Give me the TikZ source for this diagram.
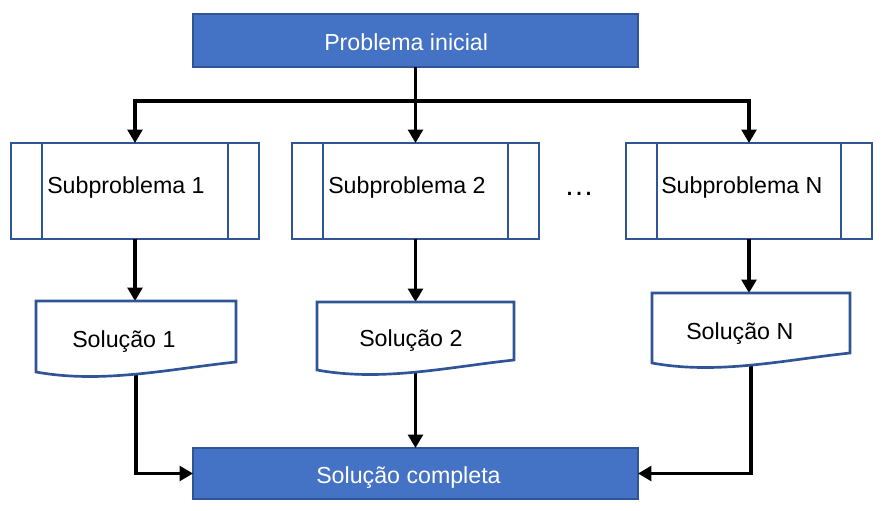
\documentclass[tikz,border=0pt]{standalone}
\usepackage{fontspec}
\setmainfont{Liberation Sans}
\usetikzlibrary{arrows.meta,calc}
\definecolor{boxfill}{HTML}{4472C4}
\definecolor{boxline}{HTML}{2F5597}
\newcommand\mydocshape[1]{%
  \draw[docline] (#1.north west) -- (#1.north east) -- (#1.south east)
    .. controls ($(#1.south east)!0.333!(#1.south west)+(0,7)$)
    and ($(#1.south east)!0.667!(#1.south west)+(0,22)$)
    .. ($(#1.south west)+(0,10)$) -- cycle;}
\newcommand\mysublines[1]{%
  \draw[boxline,line width=2pt] ([xshift=23.25pt]#1.north west) -- ([xshift=23.25pt]#1.south west);
  \draw[boxline,line width=2pt] ([xshift=-23.25pt]#1.north east) -- ([xshift=-23.25pt]#1.south east);}
\begin{document}
\begin{tikzpicture}[x=0.75pt,y=-0.75pt,
  bluebox/.style={draw=boxline,line width=2pt,fill=boxfill,inner sep=0pt,outer sep=0pt},
  subbox/.style={draw=boxline,line width=2pt,fill=white,minimum height=72pt,inner sep=0pt,outer sep=0pt},
  docbox/.style={inner sep=0pt,outer sep=0pt},
  docline/.style={draw=boxline,line width=2pt,fill=white},
  conn/.style={line width=2.4pt,-{Triangle[length=10pt,width=11pt]}},
  plainline/.style={line width=2.4pt},
  lbl/.style={anchor=base west,inner sep=0pt,font=\fontsize{17.4}{20}\selectfont}]
\useasboundingbox (0,0) rectangle (883,511);

% main boxes
\node[bluebox,minimum width=333.75pt,minimum height=39.75pt] (top) at (415.5,40.5) {};
\node[bluebox,minimum width=333.75pt,minimum height=38.25pt] (complete) at (415.5,473.5) {};

% subproblem boxes
\node[subbox,minimum width=186pt] (sub1) at (135,191) {};
\node[subbox,minimum width=185.25pt] (sub2) at (415.5,191) {};
\node[subbox,minimum width=184.5pt] (subN) at (749,191) {};
\mysublines{sub1}
\mysublines{sub2}
\mysublines{subN}

% solution (document) frames
\node[docbox,minimum width=150pt,minimum height=45.75pt] (sol1) at (136,331.5) {};
\node[docbox,minimum width=147.75pt,minimum height=43.5pt] (sol2) at (415.5,331) {};
\node[docbox,minimum width=148.5pt,minimum height=45pt] (solN) at (751,323) {};

% connectors
\coordinate (bus) at (415.5,101);
\draw[plainline] (top.south) -- (bus);
\draw[conn] (bus) -| (sub1.north);
\draw[conn] (bus) -- (sub2.north);
\draw[conn] (bus) -| (subN.north);
\draw[conn] (sub1.south) -- (sub1.south |- sol1.north);
\draw[conn] (sub2.south) -- (sub2.south |- sol2.north);
\draw[conn] (subN.south) -- (subN.south |- solN.north);
\draw[conn] (sol1.south) |- (complete.west);
\draw[conn] (sol2.south) -- (complete.north);
\draw[conn] (solN.south) |- (complete.east);

% document shapes on top
\mydocshape{sol1}
\mydocshape{sol2}
\mydocshape{solN}

% texts
\node[lbl,text=white] (ttop) at (324,50) {Problema inicial};
\node[lbl,text=white] (tcomplete) at (316,483) {Solução completa};
\node[lbl] (tsub1) at (47,193) {Subproblema 1};
\node[lbl] (tsub2) at (328,193) {Subproblema 2};
\node[lbl] (tsubN) at (661,193) {Subproblema N};
\node[lbl] (tsol1) at (72,347) {Solução 1};
\node[lbl] (tsol2) at (359,346) {Solução 2};
\node[lbl] (tsolN) at (686,339) {Solução N};
\node[lbl,anchor=base,font=\fontsize{22.5}{26}\selectfont] (dots) at (579,195) {…};
\end{tikzpicture}
\end{document}
